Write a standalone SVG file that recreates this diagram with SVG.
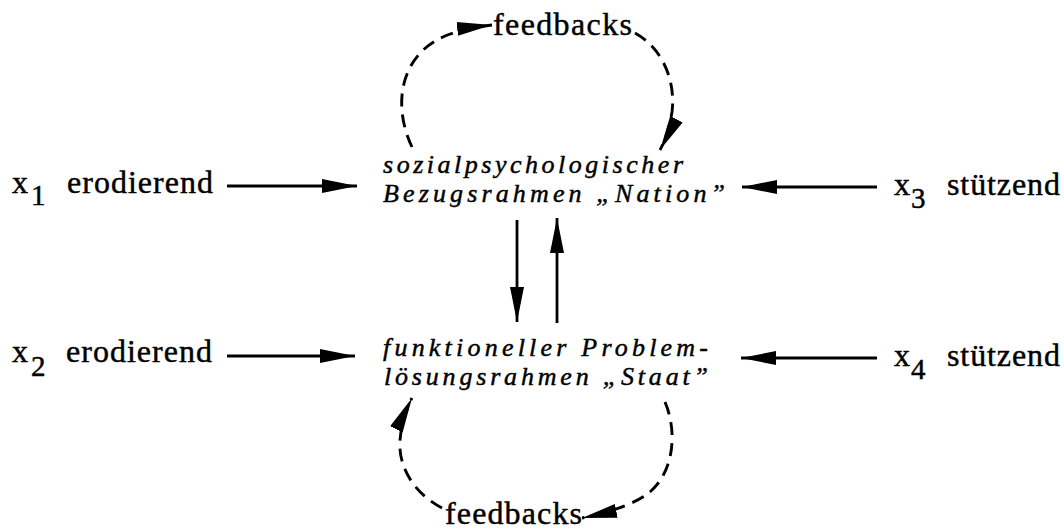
<svg xmlns="http://www.w3.org/2000/svg" width="1064" height="530" viewBox="0 0 1064 530">
<style>
  text { font-family: "Liberation Serif", "DejaVu Serif", serif; fill: #000; stroke: #000; stroke-width: 0.45; }
  .lbl { font-size: 32px; }
  .sub { font-size: 29px; }
  .it { font-size: 26px; font-style: italic; }
  .solid { stroke: #000; stroke-width: 2.8; fill: none; }
  .dash { stroke: #000; stroke-width: 2.9; fill: none; stroke-dasharray: 13 8; }
</style>
<defs>
  <marker id="ah" markerUnits="userSpaceOnUse" markerWidth="38" markerHeight="16" refX="35" refY="8" orient="auto">
    <path d="M0,1 L35,8 L0,15 Z" fill="#000" stroke="none"/>
  </marker>
</defs>
<rect width="1064" height="530" fill="#fff"/>

<g id="connectors">
  <path class="solid" d="M227,186 L357,186" marker-end="url(#ah)"/>
  <path class="solid" d="M227,356 L355,356" marker-end="url(#ah)"/>
  <path class="solid" d="M877,187 L742,187" marker-end="url(#ah)"/>
  <path class="solid" d="M877,358 L741,358" marker-end="url(#ah)"/>
  <path class="solid" d="M517,220 L517,322" marker-end="url(#ah)"/>
  <path class="solid" d="M557,323 L557,218" marker-end="url(#ah)"/>
  <path class="dash" d="M412,147 C392,105 400,55 445,36 Q465,28 492,25" marker-end="url(#ah)"/>
  <path class="dash" d="M635,33 C662,48 676,80 672,112 Q668,135 660,150" marker-end="url(#ah)"/>
  <path class="dash" d="M442,508 C412,492 398,465 400,440 Q402,418 412,398" marker-end="url(#ah)"/>
  <path class="dash" d="M665,402 C677,430 675,470 650,492 Q630,508 582,518" marker-end="url(#ah)"/>
</g>

<g id="node-nation">
  <text class="it" x="383" y="173" textLength="300" lengthAdjust="spacing">sozialpsychologischer</text>
  <text class="it" x="383" y="202" textLength="342" lengthAdjust="spacing">Bezugsrahmen „Nation”</text>
</g>
<g id="node-staat">
  <text class="it" x="383" y="356" textLength="325" lengthAdjust="spacing">funktioneller Problem-</text>
  <text class="it" x="384" y="385" textLength="324" lengthAdjust="spacing">lösungsrahmen „Staat”</text>
</g>
<g id="feedback-top">
  <text class="lbl" x="493" y="35" textLength="139" lengthAdjust="spacing">feedbacks</text>
</g>
<g id="feedback-bottom">
  <text class="lbl" x="445" y="524" textLength="137" lengthAdjust="spacing">feedbacks</text>
</g>
<g id="x1">
  <text class="lbl" x="12" y="193">x</text>
  <text class="sub" x="31" y="205">1</text>
  <text class="lbl" x="67" y="193" textLength="146" lengthAdjust="spacing">erodierend</text>
</g>
<g id="x2">
  <text class="lbl" x="12" y="362">x</text>
  <text class="sub" x="31" y="376">2</text>
  <text class="lbl" x="66" y="362" textLength="146" lengthAdjust="spacing">erodierend</text>
</g>
<g id="x3">
  <text class="lbl" x="894" y="195">x</text>
  <text class="sub" x="911" y="208">3</text>
  <text class="lbl" x="947" y="195" textLength="113" lengthAdjust="spacing">stützend</text>
</g>
<g id="x4">
  <text class="lbl" x="894" y="366">x</text>
  <text class="sub" x="911" y="379">4</text>
  <text class="lbl" x="947" y="366" textLength="113" lengthAdjust="spacing">stützend</text>
</g>
</svg>
